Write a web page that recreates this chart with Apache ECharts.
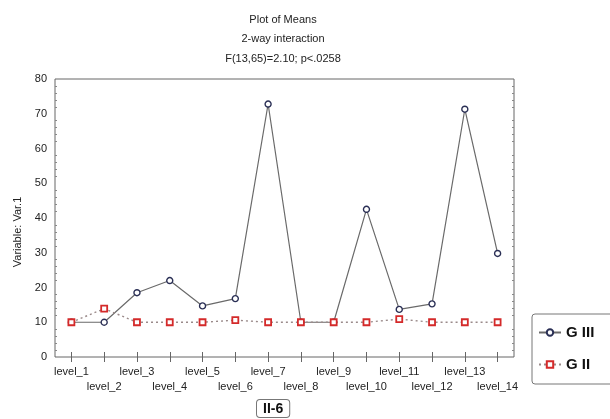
<!DOCTYPE html>
<html>
<head>
<meta charset="utf-8">
<script src="https://cdn.jsdelivr.net/npm/echarts@6/dist/echarts.min.js"></script>
<style>
  html, body { margin: 0; padding: 0; background: #fff; }
</style>
</head>
<body>
<!-- plot of means -->
<div id="means" style="width: 610px; height: 419px"></div>
<script>
const levels = ['level_1', 'level_2', 'level_3', 'level_4', 'level_5', 'level_6', 'level_7',
  'level_8', 'level_9', 'level_10', 'level_11', 'level_12', 'level_13', 'level_14']
const gIII = [10, 10, 18.5, 22, 14.7, 16.8, 72.8, 10, 10, 42.5, 13.7, 15.3, 71.3, 29.8]
const gII = [10, 13.9, 10, 10, 10, 10.6, 10, 10, 10, 10, 10.9, 10, 10, 10]
const yTicks = [0, 10, 20, 30, 40, 50, 60, 70, 80]

const font = 'Liberation Sans'
const frameColor = '#666'
const chart = echarts.init(document.getElementById('means'))

const tickStyle = { inside: true, length: 5, lineStyle: { color: frameColor } }
const minorStyle = { show: true, splitNumber: 5, length: 2, lineStyle: { color: '#888' } }

const option = {
  animation: false,
  title: {
    text: 'Plot of Means\n2-way interaction\nF(13,65)=2.10; p<.0258',
    left: 278,
    top: 5,
    textAlign: 'center',
    textStyle: { fontFamily: font, fontSize: 11, fontWeight: 'normal', color: '#222', lineHeight: 19.5 }
  },
  grid: {
    left: 55,
    top: 79,
    right: 96,
    bottom: 62,
    show: true,
    borderColor: frameColor,
    borderWidth: 1
  },
  legend: {
    orient: 'vertical',
    left: 532,
    top: 314,
    padding: [11, 40, 12, 6],
    itemGap: 17,
    itemWidth: 22,
    itemHeight: 8,
    borderColor: '#777',
    borderWidth: 1,
    borderRadius: 3,
    textStyle: { fontFamily: font, fontSize: 15, fontWeight: 'bold', color: '#111' },
    data: ['G III', 'G II']
  },
  xAxis: [
    {
      type: 'category',
      data: levels,
      boundaryGap: true,
      axisLine: { show: false },
      axisTick: { show: true, inside: true, length: 5, alignWithLabel: true, interval: 0, lineStyle: { color: frameColor } },
      axisLabel: {
        interval: 0,
        margin: 7,
        fontFamily: font,
        fontSize: 11,
        color: '#222',
        lineHeight: 15,
        formatter: (v, i) => (i % 2 === 1 ? '\n' + v : v)
      }
    },
    {
      type: 'category',
      data: levels,
      position: 'top',
      boundaryGap: true,
      axisLine: { show: false },
      axisTick: { show: true, inside: true, length: 5, alignWithLabel: true, interval: 0, lineStyle: { color: frameColor } },
      axisLabel: { show: false }
    }
  ],
  yAxis: [
    {
      type: 'value',
      min: yTicks[0],
      max: yTicks[yTicks.length - 1],
      interval: 10,
      axisLine: { show: false },
      axisTick: tickStyle,
      minorTick: minorStyle,
      splitLine: { show: false },
      axisLabel: { fontFamily: font, fontSize: 11, color: '#222', margin: 8 }
    },
    {
      type: 'value',
      position: 'right',
      min: yTicks[0],
      max: yTicks[yTicks.length - 1],
      interval: 10,
      axisLine: { show: false },
      axisTick: tickStyle,
      minorTick: minorStyle,
      splitLine: { show: false },
      axisLabel: { show: false }
    }
  ],
  series: [
    {
      name: 'G III',
      type: 'line',
      data: gIII,
      symbol: 'circle',
      symbolSize: 6,
      lineStyle: { color: '#6a6a6a', width: 1.2, type: 'solid' },
      itemStyle: { color: '#fff', borderColor: '#2a2f55', borderWidth: 1.4 },
      z: 3
    },
    {
      name: 'G II',
      type: 'line',
      data: gII,
      symbol: 'rect',
      symbolSize: 6,
      lineStyle: { color: '#9a8a8a', width: 1.4, type: [2, 3] },
      itemStyle: { color: '#fff', borderColor: '#d42a2a', borderWidth: 1.8 },
      z: 4
    }
  ],
  graphic: [
    {
      // y axis title, sits a bit below the middle like the original
      type: 'text',
      x: 18,
      y: 232,
      rotation: Math.PI / 2,
      style: {
        text: 'Variable: Var.1',
        fontFamily: font,
        fontSize: 11,
        fill: '#222',
        align: 'center',
        verticalAlign: 'middle'
      }
    },
    {
      type: 'text',
      left: 256,
      top: 399,
      style: {
        text: 'II-6',
        fontFamily: font,
        fontSize: 14,
        fontWeight: 'bold',
        fill: '#111',
        backgroundColor: '#fff',
        borderColor: '#777',
        borderWidth: 1,
        borderRadius: 3,
        padding: [2, 6, 1, 6]
      }
    }
  ]
}

chart.setOption(option)
</script>
</body>
</html>
